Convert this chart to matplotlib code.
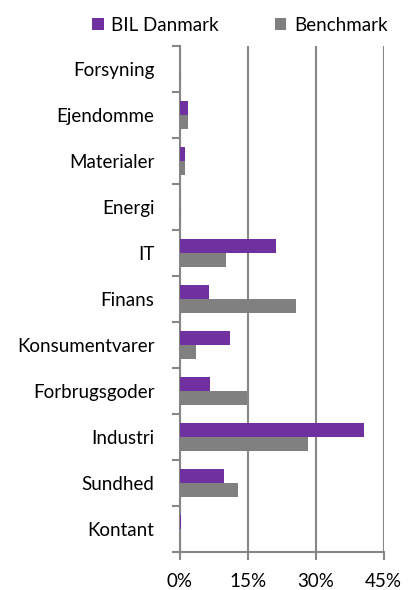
import matplotlib
matplotlib.use("Agg")
import matplotlib.pyplot as plt
import numpy as np
from matplotlib.ticker import FuncFormatter

plt.rcParams['font.family'] = ['Lato', 'DejaVu Sans']

# categories listed bottom -> top
sectors = ["Kontant", "Sundhed", "Industri", "Forbrugsgoder", "Konsumentvarer",
           "Finans", "IT", "Energi", "Materialer", "Ejendomme", "Forsyning"]
bil_danmark = [0.3, 9.9, 40.6, 6.8, 11.2, 6.4, 21.3, 0.2, 1.1, 1.9, 0.0]
benchmark = [0.0, 13.0, 28.3, 14.9, 3.7, 25.7, 10.3, 0.3, 1.1, 1.9, 0.3]
xticks = [0, 15, 30, 45]

purple = "#7030A0"
grey = "#808080"
axis_col = "#868686"
fs = 13.5

fig = plt.figure(figsize=(4.08, 5.90), dpi=100)
ax = fig.add_axes([0.44, 0.0644, 0.5, 0.8576])

y = np.arange(len(sectors))
h = 0.3
ax.barh(y + h / 2, bil_danmark, height=h, color=purple, label="BIL Danmark", zorder=3)
ax.barh(y - h / 2, benchmark, height=h, color=grey, label="Benchmark", zorder=3)

ax.set_xlim(0, 45)
ax.set_ylim(-0.5, len(sectors) - 0.5)
ax.set_xticks(xticks)
ax.xaxis.set_major_formatter(FuncFormatter(lambda v, p: "%d%%" % v))
ax.grid(axis="x", color=axis_col, linewidth=1.5, zorder=0)
ax.set_axisbelow(True)

# category labels centred, ticks on the boundaries
ax.set_yticks(np.arange(len(sectors) + 1) - 0.5)
ax.set_yticklabels([])
ax.set_yticks(y, minor=True)
ax.set_yticklabels(sectors, minor=True)
ax.tick_params(axis="y", which="minor", length=0, pad=18, labelsize=fs, colors="black")
ax.tick_params(axis="y", which="major", length=6, width=1.5, color=axis_col)
ax.tick_params(axis="x", length=6, width=1.5, color=axis_col, labelsize=fs, pad=9)

for s in ["top", "right"]:
    ax.spines[s].set_visible(False)
for s in ["left", "bottom"]:
    ax.spines[s].set_color(axis_col)
    ax.spines[s].set_linewidth(1.5)

leg = fig.legend(loc="center", bbox_to_anchor=(0.588, 0.957), ncol=2, frameon=False,
                 fontsize=fs, handlelength=0.6, handleheight=0.6, columnspacing=3.0,
                 handletextpad=0.4)

fig.savefig("out.png", dpi=100)
